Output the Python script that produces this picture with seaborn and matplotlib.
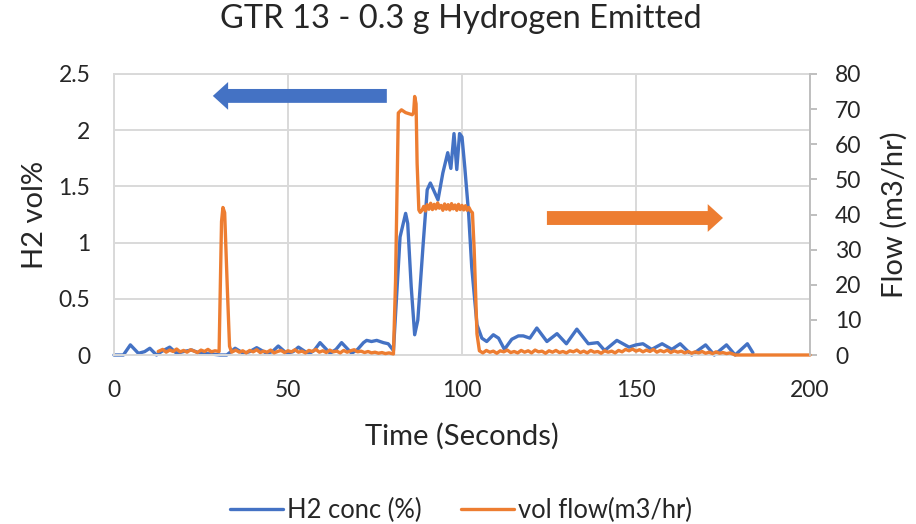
import matplotlib
matplotlib.use("Agg")
import matplotlib.pyplot as plt
import seaborn as sns
from matplotlib.ticker import MultipleLocator, FuncFormatter

# ---- data -------------------------------------------------------------
time_h2 = [
    0.0, 2.7, 4.7, 7.0, 8.8, 10.3, 12.2, 13.6, 16.0, 18.0,
    19.9, 22.3, 24.7, 27.6, 30.5, 32.4, 34.8, 37.2, 39.0, 41.0,
    43.9, 45.5, 47.2, 49.6, 51.5, 53.0, 55.9, 57.5, 59.2, 62.1,
    63.8, 65.4, 68.3, 70.0, 71.7, 72.6, 74.0, 75.5, 77.4, 78.8,
    80.3, 82.2, 83.8, 84.4, 85.4, 86.4, 87.3, 88.8, 90.0, 90.9,
    91.8, 93.1, 94.5, 95.9, 96.8, 97.7, 98.5, 99.3, 100.0, 100.8,
    101.9, 102.8, 104.3, 105.7, 107.1, 109.0, 110.5, 112.2, 114.3, 116.2,
    117.6, 119.5, 121.5, 124.4, 127.3, 130.0, 133.0, 136.3, 139.0, 141.0,
    144.5, 148.0, 150.0, 152.0, 154.5, 157.5, 160.3, 162.7, 166.0, 170.0,
    172.5, 176.0, 178.5, 182.0, 183.6,
]
h2_conc = [
    0.0, 0.0, 0.09, 0.015, 0.03, 0.06, 0.0, 0.03, 0.07, 0.015,
    0.03, 0.045, 0.015, 0.01, 0.0, 0.0, 0.06, 0.015, 0.03, 0.065,
    0.015, 0.03, 0.08, 0.015, 0.03, 0.07, 0.01, 0.04, 0.11, 0.015,
    0.05, 0.11, 0.015, 0.05, 0.11, 0.13, 0.12, 0.13, 0.11, 0.10,
    0.04, 1.05, 1.26, 1.17, 0.61, 0.18, 0.31, 0.97, 1.47, 1.53,
    1.47, 1.38, 1.62, 1.80, 1.66, 1.97, 1.65, 1.97, 1.94, 1.67,
    1.26, 0.78, 0.27, 0.15, 0.12, 0.18, 0.15, 0.05, 0.14, 0.17,
    0.17, 0.15, 0.24, 0.12, 0.19, 0.10, 0.23, 0.10, 0.11, 0.04,
    0.13, 0.07, 0.09, 0.10, 0.05, 0.10, 0.05, 0.10, 0.0, 0.09,
    0.0, 0.09, 0.0, 0.10, 0.02,
]

time_flow = [
    12.7, 14, 15, 16, 17, 18, 19, 20, 21, 22,
    23, 24, 25, 26, 27, 28, 29,
    30.2, 30.9, 31.3, 31.8, 32.6, 33.2, 33.8,
    35, 36, 37, 38, 39, 40, 41, 42, 43, 44,
    45, 46, 47, 48, 49, 50, 51, 52, 53, 54,
    55, 56, 57, 58, 59, 60, 61, 62, 63, 64,
    65, 66, 67, 68, 69, 70, 71, 72, 73, 74,
    75, 76, 77, 78, 79,
    80.3, 80.9, 81.7, 82.6, 83.8, 85.7, 86.1, 86.4, 86.8, 87.1,
    87.6, 88.0,
    88.5, 89.0, 89.5, 90.0, 90.5, 91.0, 91.5, 92.0, 92.5, 93.0,
    93.5, 94.0, 94.5, 95.0, 95.5, 96.0, 96.5, 97.0, 97.5, 98.0,
    98.5, 99.0, 99.5, 100.0, 100.5, 101.0, 101.5, 102.0, 102.5,
    103.0, 103.5, 104.3, 105.0,
    106, 107, 108, 109, 110, 111, 112, 113, 114, 115,
    116, 117, 118, 119, 120, 121, 122, 123, 124, 125,
    126, 127, 128, 129, 130, 131, 132, 133, 134, 135,
    136, 137, 138, 139, 140, 141, 142, 143, 144, 145,
    146, 147, 148, 149, 150, 151, 152, 153, 154, 155,
    156, 157, 158, 159, 160, 161, 162, 163, 164, 165,
    166, 167, 168, 169, 170, 171, 172, 173, 174, 175,
    176, 177,
    178.5, 200.0,
]
vol_flow = [
    1.0, 1.6, 0.8, 1.4, 1.0, 1.7, 0.9, 1.3, 0.8, 1.5,
    1.1, 0.7, 1.4, 1.0, 1.6, 0.9, 1.2,
    1.0, 38.0, 42.0, 40.5, 18.0, 2.5, 0.8,
    1.4, 0.8, 1.2, 0.6, 1.3, 0.9, 1.5, 0.7, 1.1, 0.8,
    1.4, 0.6, 1.0, 1.3, 0.7, 1.2, 0.9, 1.5, 0.8, 1.1,
    0.6, 1.3, 1.0, 1.6, 0.8, 1.2, 0.7, 1.4, 0.9, 1.1,
    0.6, 1.3, 0.8, 1.2, 1.5, 0.9, 1.1, 0.7, 1.0, 0.6,
    0.8, 0.5, 0.7, 0.4, 0.6,
    0.3, 21.0, 68.9, 69.8, 69.0, 68.4, 69.0, 73.6, 71.5, 54.6,
    41.3, 40.6,
    41.2, 42.3, 41.0, 42.8, 41.5, 43.2, 41.4, 42.9, 41.6, 43.3,
    41.8, 42.6, 41.2, 43.0, 41.5, 42.8, 41.3, 43.1, 41.6, 42.7,
    41.2, 42.9, 41.4, 42.6, 41.3, 42.5, 41.2, 42.0, 41.0,
    40.5, 30.0, 6.0, 1.2,
    0.6, 1.3, 0.8, 1.1, 0.5, 1.2, 0.9, 1.4, 0.7, 1.0,
    0.6, 1.3, 0.8, 1.2, 0.6, 1.4, 0.9, 1.1, 0.5, 1.2,
    0.8, 1.3, 0.7, 1.0, 0.6, 1.2, 0.9, 1.4, 0.7, 1.1,
    0.6, 1.3, 0.8, 1.0, 0.5, 1.2, 0.8, 1.1, 0.6, 1.3,
    0.9, 1.6, 1.2, 1.7, 1.1, 1.5, 0.9, 1.4, 1.0, 1.6,
    0.8, 1.3, 0.9, 1.4, 0.7, 1.2, 0.8, 1.1, 0.6, 1.0,
    0.5, 0.9, 0.6, 1.0, 0.5, 0.8, 0.4, 0.9, 0.5, 0.7,
    0.4, 0.6,
    0.0, 0.0,
]

series_labels = ["H2 conc (%)", "vol flow(m3/hr)"]
x_ticks_step = 50
left_ticks_step = 0.5
right_ticks_step = 10

# ---- style ------------------------------------------------------------
BLUE = "#4472C4"
ORANGE = "#ED7D31"
GRID = "#D9D9D9"
AXIS = "#BFBFBF"
TEXT = "#262626"

sns.set_style("white")
plt.rcParams["font.family"] = ["Lato", "DejaVu Sans"]
plt.rcParams["text.color"] = TEXT
plt.rcParams["axes.labelcolor"] = TEXT
plt.rcParams["xtick.color"] = TEXT
plt.rcParams["ytick.color"] = TEXT

TICK_FS = 16.5
LABEL_FS = 21
TITLE_FS = 23.5
LEGEND_FS = 18.4

fig = plt.figure(figsize=(9.16, 5.24), dpi=100)
ax = fig.add_axes([114 / 916, 1 - 355 / 524, 696 / 916, 281 / 524])

sns.lineplot(x=time_h2, y=h2_conc, ax=ax, color=BLUE, linewidth=2.4,
             estimator=None, sort=False, clip_on=False)
ax2 = ax.twinx()
sns.lineplot(x=time_flow, y=vol_flow, ax=ax2, color=ORANGE, linewidth=2.4,
             estimator=None, sort=False, clip_on=False)

ax.set_xlim(0, 200)
ax.set_ylim(0, 2.5)
ax2.set_ylim(0, 80)
ax.xaxis.set_major_locator(MultipleLocator(x_ticks_step))
ax.yaxis.set_major_locator(MultipleLocator(left_ticks_step))
ax2.yaxis.set_major_locator(MultipleLocator(right_ticks_step))
fmt = FuncFormatter(lambda v, _: f"{v:g}")
ax.xaxis.set_major_formatter(fmt)
ax.yaxis.set_major_formatter(fmt)
ax2.yaxis.set_major_formatter(fmt)

ax.grid(True, color=GRID, linewidth=1.4)
ax.set_axisbelow(True)
ax2.grid(False)

for name in ("top", "left", "bottom"):
    ax.spines[name].set_color(GRID)
    ax.spines[name].set_linewidth(1.4)
    ax2.spines[name].set_visible(False)
ax.spines["right"].set_visible(False)
ax2.spines["right"].set_color(AXIS)
ax2.spines["right"].set_linewidth(1.4)

ax.tick_params(axis="x", length=0, pad=18, labelsize=TICK_FS)
ax.tick_params(axis="y", length=0, pad=17, labelsize=TICK_FS)
ax2.tick_params(axis="y", direction="out", length=5, width=1.4, color=AXIS,
                pad=13, labelsize=TICK_FS)

ax.set_xlabel("Time (Seconds)", fontsize=LABEL_FS, va="center")
ax.xaxis.set_label_coords(0.5, (355 - 436) / 281)
ax.set_ylabel("H2 vol%", fontsize=LABEL_FS, va="center")
ax.yaxis.set_label_coords((35 - 114) / 696, 0.5)
ax2.set_ylabel("Flow (m3/hr)", fontsize=LABEL_FS, va="center", rotation=90)
ax2.yaxis.set_label_coords((894 - 114) / 696, 0.5)

fig.text(461 / 916, 1 - 19 / 524, "GTR 13 - 0.3 g Hydrogen Emitted",
         ha="center", va="center", fontsize=TITLE_FS)

# direction arrows pointing at each series' axis
arrow_kw = dict(arrowstyle="simple,head_length=1.1,head_width=2.0,tail_width=1.0",
                mutation_scale=10, shrinkA=0, shrinkB=0, lw=0)
ax.annotate("", xy=(0.142, 0.922), xytext=(0.392, 0.922), xycoords="axes fraction",
            arrowprops=dict(color=BLUE, **arrow_kw))
ax.annotate("", xy=(0.875, 0.4875), xytext=(0.622, 0.4875), xycoords="axes fraction",
            arrowprops=dict(color=ORANGE, **arrow_kw))

for a in (ax, ax2):
    if a.get_legend() is not None:
        a.get_legend().remove()

fig.legend(handles=[ax.lines[0], ax2.lines[0]], labels=series_labels,
           loc="center", bbox_to_anchor=(461 / 916, 1 - 510 / 524), ncol=2,
           frameon=False, fontsize=LEGEND_FS, handlelength=2.07,
           columnspacing=1.56, handletextpad=0.15)

fig.savefig("out.png", dpi=100)
